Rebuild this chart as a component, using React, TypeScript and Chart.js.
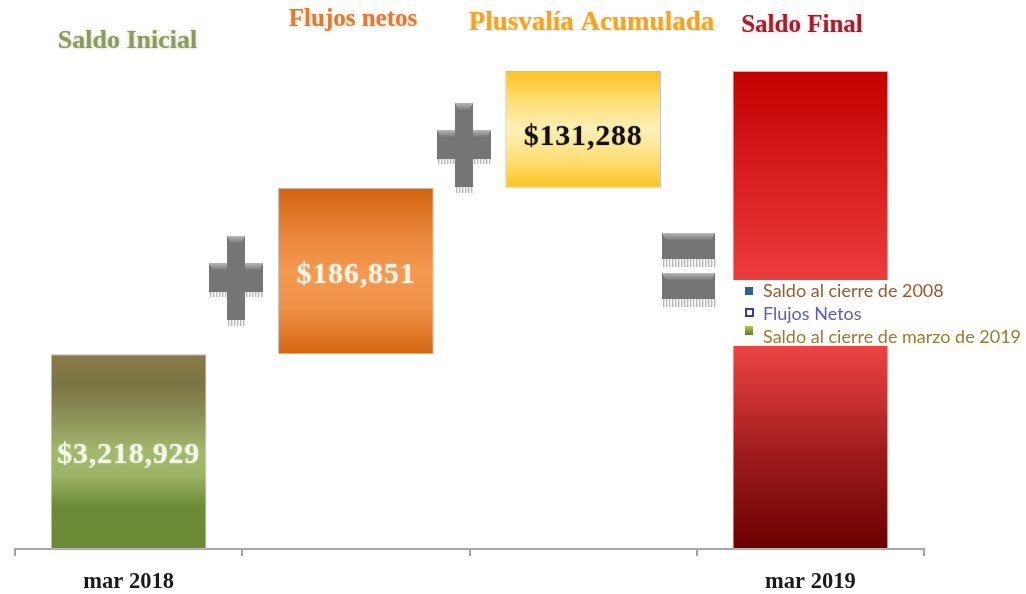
import React, { useEffect, useRef } from "react";
import { Chart, registerables } from "chart.js";

Chart.register(...registerables);

const categories = ["mar 2018", "", "", "mar 2019"];
const barStart = [3000000, 3218929, 3405780, 3000000];
const barEnd = [3218929, 3405780, 3537068, 3537068];
const barLabels = ["$3,218,929", "$186,851", "$131,288", ""];
const labelColors = ["#f4f8e8", "#fdf3e6", "#111111", "#ffffff"];
const headers = ["Saldo Inicial", "Flujos netos", "Plusvalía Acumulada", "Saldo Final"];
const legendLabels = ["Saldo al cierre de 2008", "Flujos Netos", "Saldo al cierre de marzo de 2019"];

const gradients: [number, string][][] = [
  [[0, "#8a7a47"], [0.15, "#7a7446"], [0.3, "#8a8c55"], [0.5, "#a3b86c"], [0.62, "#9cb465"], [0.78, "#6d8b36"], [1, "#6b8a33"]],
  [[0, "#d4640f"], [0.28, "#e8853a"], [0.5, "#f4994f"], [0.72, "#ef9149"], [1, "#d4640f"]],
  [[0, "#fec41f"], [0.25, "#fedd72"], [0.5, "#fff0b8"], [0.75, "#fedf78"], [1, "#fec41f"]],
  [[0, "#c40000"], [0.5, "#f24444"], [0.58, "#ec4242"], [0.7, "#c22e2e"], [0.81, "#9c1a1a"], [1, "#6a0000"]],
];

const SERIF = '"Liberation Serif", serif';
const labelNudge = [4, 4, 8, 0];
const headerStyles = [
  { x: 127.5, y: 41, size: 26, color: "#8a9c5a", glow: "rgba(110,130,60,0.45)" },
  { x: 353, y: 20, size: 25, color: "#e07b33", glow: "rgba(220,110,30,0.4)" },
  { x: 591.5, y: 23, size: 27, color: "#f9a21f", glow: "rgba(250,170,40,0.45)" },
  { x: 802, y: 26, size: 25, color: "#a51e2a", glow: "rgba(165,30,40,0.35)" },
];

function block(ctx: CanvasRenderingContext2D, x: number, y: number, w: number, h: number, fringe: number) {
  ctx.fillStyle = "#b5b5b5";
  for (let fx = x + 1; fx < x + w; fx += 3) ctx.fillRect(fx, y + h, 1.4, fringe);
  ctx.fillStyle = "#757575";
  ctx.fillRect(x, y, w, h);
  const g = ctx.createLinearGradient(0, y, 0, y + 8);
  g.addColorStop(0, "#b8b8b8");
  g.addColorStop(1, "#707070");
  ctx.fillStyle = g;
  ctx.beginPath();
  ctx.moveTo(x, y);
  ctx.lineTo(x + w, y);
  ctx.lineTo(x + w - 4, y + 8);
  ctx.lineTo(x + 4, y + 8);
  ctx.closePath();
  ctx.fill();
}

function plus(ctx: CanvasRenderingContext2D, cx: number, top: number) {
  block(ctx, cx - 27, top + 27, 54, 29, 5);
  block(ctx, cx - 9, top, 18, 84, 6);
}

const decorations: Record<string, any> = {
  id: "decorations",
  afterDatasetsDraw(chart: any) {
    const ctx: CanvasRenderingContext2D = chart.ctx;
    const bars = chart.getDatasetMeta(0).data;
    ctx.save();
    ctx.textAlign = "center";
    ctx.textBaseline = "middle";
    barLabels.forEach((text, i) => {
      if (!text) return;
      const b = bars[i];
      ctx.font = `bold 30px ${SERIF}`;
      (ctx as any).letterSpacing = "0.8px";
      ctx.shadowColor = i === 2 ? "rgba(120,90,0,0.4)" : "rgba(255,255,255,0.55)";
      ctx.shadowBlur = 2;
      ctx.fillStyle = labelColors[i];
      ctx.fillText(text, b.x, (b.y + b.base) / 2 + labelNudge[i]);
    });
    headers.forEach((text, i) => {
      const s = headerStyles[i];
      ctx.font = `bold ${s.size}px ${SERIF}`;
      (ctx as any).letterSpacing = "0px";
      ctx.shadowColor = s.glow;
      ctx.shadowBlur = 3;
      ctx.fillStyle = s.color;
      ctx.fillText(text, s.x, s.y);
    });
    ctx.shadowBlur = 0;
    ctx.shadowColor = "transparent";

    plus(ctx, 236, 236);
    plus(ctx, 464, 103);
    block(ctx, 662, 233, 53, 26, 8);
    block(ctx, 662, 273, 53, 26, 8);

    ctx.fillStyle = "#ffffff";
    ctx.fillRect(729, 280, 297, 66);

    ctx.fillStyle = "#2f5f97";
    ctx.fillRect(745, 287, 8, 8);
    ctx.strokeStyle = "#3a3aa0";
    ctx.lineWidth = 2;
    ctx.strokeRect(746, 309, 7, 7);
    const g = ctx.createLinearGradient(0, 326, 0, 335);
    g.addColorStop(0, "#b0cc48");
    g.addColorStop(1, "#5e7a32");
    ctx.fillStyle = g;
    ctx.fillRect(745, 326, 8, 9);

    ctx.textAlign = "left";
    ctx.font = '18px "Lato", sans-serif';
    const textColors = ["#9a5a2c", "#5c5cc4", "#9a7a2c"];
    const textY = [291.5, 314, 337];
    legendLabels.forEach((text, i) => {
      ctx.fillStyle = textColors[i];
      ctx.fillText(text, 763, textY[i]);
    });
    ctx.restore();
  },
};

export default function App() {
  const ref = useRef<HTMLCanvasElement>(null);
  useEffect(() => {
    const chart = new Chart(ref.current!, {
      type: "bar",
      data: {
        labels: categories,
        datasets: [
          {
            data: barStart.map((s, i) => [s, barEnd[i]]) as any,
            barPercentage: 0.685,
            categoryPercentage: 1,
            borderWidth: 1,
            borderColor: "#bdbdbd",
            borderSkipped: false,
            backgroundColor: (c: any) => {
              const { chart: ch, dataIndex } = c;
              const y = ch.scales.y;
              if (!y || dataIndex === undefined) return "#888";
              const top = y.getPixelForValue(barEnd[dataIndex]);
              const bottom = y.getPixelForValue(barStart[dataIndex]);
              if (!Number.isFinite(top) || !Number.isFinite(bottom)) return "#888";
              const grad = ch.ctx.createLinearGradient(0, top, 0, bottom);
              gradients[dataIndex].forEach(([o, col]) => grad.addColorStop(o, col));
              return grad;
            },
          },
        ],
      },
      options: {
        responsive: false,
        animation: false,
        layout: { padding: { left: 15, right: 102, top: 71, bottom: 0 } },
        plugins: { legend: { display: false }, tooltip: { enabled: false } },
        scales: {
          y: { display: false, min: 3000000, max: 3537068 },
          x: {
            afterFit: (scale: any) => {
              scale.height = 45;
            },
            border: { color: "#a6a6a6", width: 2 },
            grid: { color: "#a6a6a6", lineWidth: 2, drawOnChartArea: false, tickLength: 7, offset: true },
            ticks: {
              color: "#1a1a1a",
              font: { family: "Liberation Serif", size: 22.5, weight: "bold" },
              padding: 13,
              maxRotation: 0,
              autoSkip: false,
            },
          },
        },
      },
      plugins: [decorations],
    } as any);
    return () => chart.destroy();
  }, []);
  return (
    <div style={{ position: "absolute", left: 0, top: 0, width: 1026, height: 594, background: "#fff" }}>
      <canvas ref={ref} width={1026} height={594} style={{ display: "block" }} />
    </div>
  );
}
